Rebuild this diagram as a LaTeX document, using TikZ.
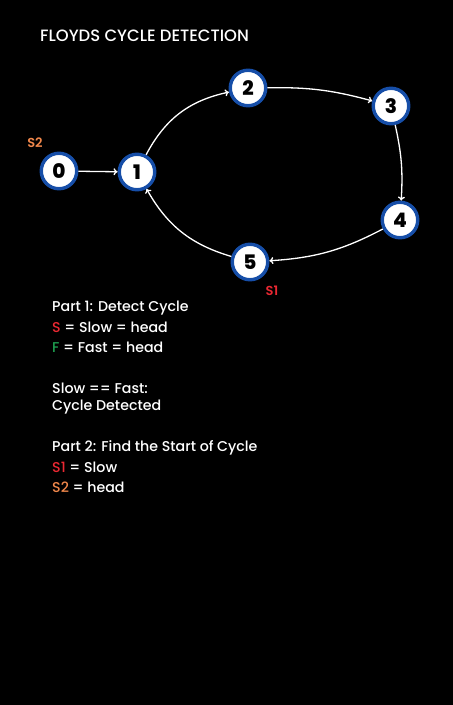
\documentclass[tikz,border=0pt]{standalone}
\usepackage{fontspec}
\setmainfont{Poppins}[UprightFont={* Medium},BoldFont={* ExtraBold}]
\newfontfamily\semibfont{Poppins}[UprightFont={* SemiBold}]
\usetikzlibrary{arrows.meta}
\definecolor{ringblue}{RGB}{22,78,168}
\definecolor{sred}{RGB}{235,40,50}
\definecolor{sorange}{RGB}{240,135,75}
\definecolor{fgreen}{RGB}{30,160,80}
\begin{document}
\begin{tikzpicture}[x=1pt,y=-1pt,
  vnode/.style={circle,fill=white,draw=ringblue,line width=3.4pt,minimum size=35.5pt,inner sep=0pt,font=\fontsize{20}{20}\selectfont\bfseries,text=black},
  edge/.style={draw=white,line width=1.3pt,-{To[length=4pt,width=7pt]}},
  txt/.style={text=white,anchor=west,inner sep=0pt,font=\fontsize{14.2}{15}\selectfont\mdseries}]
\fill[black] (0,0) rectangle (453,705);
\useasboundingbox (0,0) rectangle (453,705);
\node[text=white,anchor=west,inner sep=0pt,font=\fontsize{16.4}{16}\selectfont\mdseries] (title) at (40,35.5) {FLOYDS CYCLE DETECTION};
\node[vnode] (n0) at (59,171) {0};
\node[vnode] (n1) at (137,172) {1};
\node[vnode] (n2) at (248,88) {2};
\node[vnode] (n3) at (391,106) {3};
\node[vnode] (n4) at (400,220) {4};
\node[vnode] (n5) at (250,262) {5};
\draw[edge] (n0) -- (n1);
\draw[edge] (n1) to[bend left=25] (n2);
\draw[edge] (n2) to[bend left=8] (n3);
\draw[edge] (n3) to[bend left=8] (n4);
\draw[edge] (n4) to[bend left=12] (n5);
\draw[edge] (n5) to[bend left=22] (n1);
\node[text=sorange,inner sep=0pt,font=\fontsize{13}{13}\selectfont\semibfont] (s2) at (35,143) {S2};
\node[text=sred,inner sep=0pt,font=\fontsize{13}{13}\selectfont\semibfont] (s1) at (272,291) {S1};
\node[txt] (l1) at (52,308) {Part 1: Detect Cycle};
\node[txt] (l2) at (52,327) {\textcolor{sred}{S} = Slow = head};
\node[txt] (l3) at (52,347) {\textcolor{fgreen}{F} = Fast = head};
\node[txt] (l4) at (52,388) {Slow == Fast:};
\node[txt] (l5) at (52,407) {Cycle Detected};
\node[txt] (l6) at (52,448) {Part 2: Find the Start of Cycle};
\node[txt] (l7) at (52,467) {\textcolor{sred}{S1} = Slow};
\node[txt] (l8) at (52,487) {\textcolor{sorange}{S2} = head};
\end{tikzpicture}
\end{document}
